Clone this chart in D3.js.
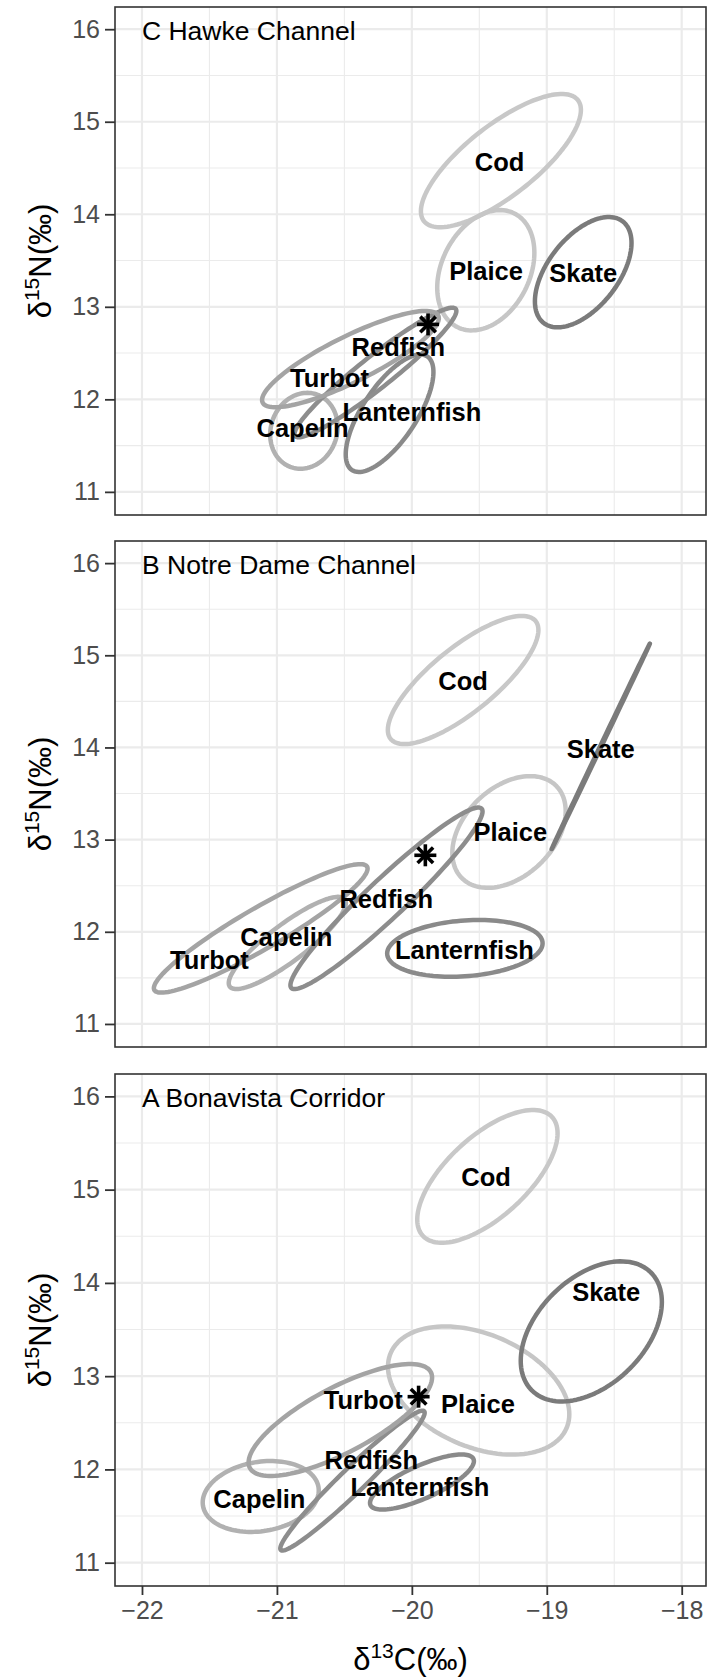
<!DOCTYPE html>
<html>
<head>
<meta charset="utf-8">
<script src="https://cdn.jsdelivr.net/npm/d3@7"></script>
<style>
  body { margin: 0; background: #fff; }
  svg text { font-family: "Liberation Sans", Arial, Helvetica, sans-serif; }
</style>
</head>
<body>
<svg id="chart" width="707" height="1680"></svg>
<script>

// Isotopic niche ellipses by region (d13C vs d15N)

const regions = ["C Hawke Channel", "B Notre Dame Channel", "A Bonavista Corridor"];
const species = ["Capelin", "Cod", "Lanternfish", "Plaice", "Redfish", "Skate", "Turbot"];
const speciesGrey = ["#b1b1b1", "#c8c8c8", "#8a8a8a", "#c6c6c6", "#8d8d8d", "#7b7b7b", "#a4a4a4"];

// per region, per species (same order as species)
const meanC = [
  [-20.80, -19.34, -20.165, -19.452, -20.27, -18.73, -20.455],
  [-20.923, -19.62, -19.607, -19.28, -20.188, -18.60, -21.12],
  [-21.12, -19.44, -19.925, -19.505, -20.44, -18.67, -20.53]
];
const meanN = [
  [11.66, 14.58, 11.85, 13.395, 12.29, 13.374, 12.435],
  [11.879, 14.732, 11.82, 13.083, 12.363, 14.012, 12.037],
  [11.71, 15.142, 11.865, 12.846, 11.88, 13.48, 12.53]
];
const sdC = [
  [0.25, 0.593, 0.325, 0.36, 0.60, 0.358, 0.655],
  [0.434, 0.558, 0.576, 0.42, 0.712, 0.364, 0.792],
  [0.43, 0.52, 0.385, 0.672, 0.535, 0.523, 0.68]
];
const sdN = [
  [0.41, 0.72, 0.635, 0.65, 0.70, 0.596, 0.52],
  [0.50, 0.695, 0.308, 0.606, 0.985, 1.115, 0.697],
  [0.38, 0.712, 0.295, 0.687, 0.75, 0.751, 0.60]
];
const corr = [
  [0.10, 0.76, 0.70, 0.29, 0.95, 0.53, 0.85],
  [0.87, 0.78, 0.18, 0.375, 0.957, 0.9999, 0.93],
  [0.17, 0.65, 0.76, -0.37, 0.97, 0.42, 0.76]
];
// label anchors (data units)
const labelC = [
  [-20.81, -19.35, -20.00, -19.45, -20.10, -18.73, -20.61],
  [-20.93, -19.62, -19.61, -19.27, -20.19, -18.60, -21.50],
  [-21.13, -19.45, -19.94, -19.51, -20.30, -18.56, -20.36]
];
const labelN = [
  [11.69, 14.57, 11.87, 13.39, 12.57, 13.37, 12.23],
  [11.95, 14.72, 11.80, 13.08, 12.36, 13.99, 11.70],
  [11.69, 15.14, 11.81, 12.70, 12.10, 13.90, 12.75]
];
// reference point (asterisk)
const starC = [-19.88, -19.90, -19.95];
const starN = [12.81, 12.83, 12.78];

const xTicks = [-22, -21, -20, -19, -18];
const xMinor = [-21.5, -20.5, -19.5, -18.5];
const yTicks = [11, 12, 13, 14, 15, 16];
const yMinor = [11.5, 12.5, 13.5, 14.5, 15.5];

// layout
const left = 115, right = 706;
const tops = [7, 541, 1074],
    bottoms = [515, 1047, 1586];

let svg = d3.select("#chart");

let x = d3.scaleLinear()
    .domain([-22.2, -17.82])
    .range([left, right]);

function ellipsePoints(mx, my, sx, sy, r) {
    let q = Math.sqrt(1 - r * r);
    return d3.range(0, 120).map(function (i) {
        let t = i / 120 * 2 * Math.PI;
        return [mx + sx * Math.cos(t), my + sy * (r * Math.cos(t) + q * Math.sin(t))];
    });
}

regions.forEach(function (region, p) {

    let y = d3.scaleLinear()
        .domain([10.75, 16.24])
        .range([bottoms[p], tops[p]]);

    let g = svg.append("g").attr("class", "panel");

    // clip
    svg.append("clipPath")
        .attr("id", "clip" + p)
        .append("rect")
        .attr("x", left).attr("y", tops[p])
        .attr("width", right - left).attr("height", bottoms[p] - tops[p]);

    // grid
    g.selectAll(".vminor").data(xMinor).enter().append("line")
        .attr("x1", d => x(d)).attr("x2", d => x(d))
        .attr("y1", tops[p]).attr("y2", bottoms[p])
        .attr("stroke", "#ebebeb").attr("stroke-width", 1.1);
    g.selectAll(".hminor").data(yMinor).enter().append("line")
        .attr("x1", left).attr("x2", right)
        .attr("y1", d => y(d)).attr("y2", d => y(d))
        .attr("stroke", "#ebebeb").attr("stroke-width", 1.1);
    g.selectAll(".vmajor").data(xTicks).enter().append("line")
        .attr("x1", d => x(d)).attr("x2", d => x(d))
        .attr("y1", tops[p]).attr("y2", bottoms[p])
        .attr("stroke", "#ebebeb").attr("stroke-width", 2.2);
    g.selectAll(".hmajor").data(yTicks).enter().append("line")
        .attr("x1", left).attr("x2", right)
        .attr("y1", d => y(d)).attr("y2", d => y(d))
        .attr("stroke", "#ebebeb").attr("stroke-width", 2.2);

    // ellipses
    let line = d3.line()
        .x(d => x(d[0]))
        .y(d => y(d[1]))
        .curve(d3.curveLinearClosed);

    let ell = g.append("g").attr("clip-path", "url(#clip" + p + ")");
    species.forEach(function (s, i) {
        ell.append("path")
            .attr("d", line(ellipsePoints(meanC[p][i], meanN[p][i], sdC[p][i], sdN[p][i], corr[p][i])))
            .attr("fill", "none")
            .attr("stroke", speciesGrey[i])
            .attr("stroke-width", 4.5)
            .attr("stroke-linejoin", "round");
    });

    // asterisk
    let star = g.append("g")
        .attr("transform", `translate(${x(starC[p])},${y(starN[p])})`);
    [0, 45, 90, 135].forEach(function (a) {
        let rad = a * Math.PI / 180;
        star.append("line")
            .attr("x1", -11 * Math.cos(rad)).attr("y1", -11 * Math.sin(rad))
            .attr("x2", 11 * Math.cos(rad)).attr("y2", 11 * Math.sin(rad))
            .attr("stroke", "#000").attr("stroke-width", 3.6);
    });

    // labels
    species.forEach(function (s, i) {
        g.append("text")
            .attr("x", x(labelC[p][i]))
            .attr("y", y(labelN[p][i]))
            .attr("dy", "0.36em")
            .attr("text-anchor", "middle")
            .attr("font-size", 25.5)
            .attr("font-weight", "bold")
            .attr("fill", "#000")
            .text(s);
    });

    // panel border
    g.append("rect")
        .attr("x", left).attr("y", tops[p])
        .attr("width", right - left).attr("height", bottoms[p] - tops[p])
        .attr("fill", "none")
        .attr("stroke", "#333").attr("stroke-width", 1.6);

    // region title
    g.append("text")
        .attr("x", x(-22))
        .attr("y", tops[p] + 33)
        .attr("font-size", 26.5)
        .attr("fill", "#000")
        .text(region);

    // y axis
    let yAxis = d3.axisLeft(y)
        .tickValues(yTicks)
        .tickSize(10)
        .tickPadding(5)
        .tickFormat(d3.format("d"));
    let ya = g.append("g")
        .attr("transform", `translate(${left},0)`)
        .call(yAxis);
    ya.select(".domain").remove();
    ya.selectAll(".tick line").attr("stroke", "#333").attr("stroke-width", 1.8);
    ya.selectAll(".tick text")
        .attr("fill", "#4d4d4d")
        .attr("font-size", 25)
        .style("font-family", "'Liberation Sans', Arial, sans-serif");

    // y title
    let yt = g.append("text")
        .attr("transform", `translate(51,${(tops[p] + bottoms[p]) / 2}) rotate(-90)`)
        .attr("text-anchor", "middle")
        .attr("font-size", 31)
        .attr("fill", "#000");
    yt.append("tspan").text("δ");
    yt.append("tspan").attr("font-size", 21).attr("dy", -12).text("15");
    yt.append("tspan").attr("dy", 12).text("N(‰)");

    // x axis on the bottom panel only
    if (p === regions.length - 1) {
        let xAxis = d3.axisBottom(x)
            .tickValues(xTicks)
            .tickSize(9)
            .tickPadding(6)
            .tickFormat(d3.format("d"));
        let xa = g.append("g")
            .attr("transform", `translate(0,${bottoms[p]})`)
            .call(xAxis);
        xa.select(".domain").remove();
        xa.selectAll(".tick line").attr("stroke", "#333").attr("stroke-width", 1.8);
        xa.selectAll(".tick text")
            .attr("fill", "#4d4d4d")
            .attr("font-size", 25)
            .style("font-family", "'Liberation Sans', Arial, sans-serif");

        let xt = g.append("text")
            .attr("x", (left + right) / 2)
            .attr("y", 1670)
            .attr("text-anchor", "middle")
            .attr("font-size", 31)
            .attr("fill", "#000");
        xt.append("tspan").text("δ");
        xt.append("tspan").attr("font-size", 21).attr("dy", -12).text("13");
        xt.append("tspan").attr("dy", 12).text("C(‰)");
    }
});

</script>
</body>
</html>
